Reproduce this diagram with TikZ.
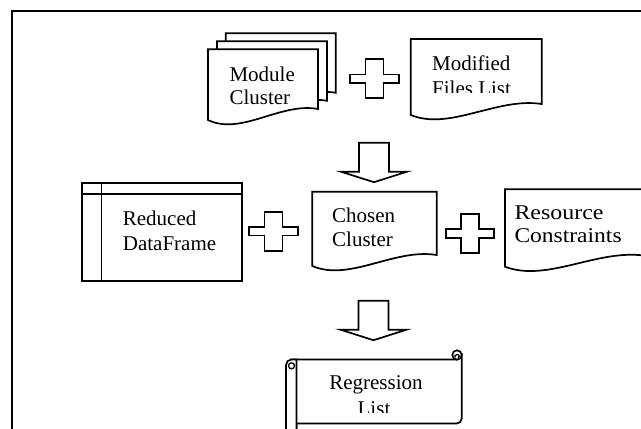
\documentclass[tikz,border=0pt]{standalone}
\usepackage{fontspec}
\setmainfont{Liberation Serif}
\tikzset{
  shape line/.style={line width=1.7pt, draw=black, fill=white, line join=miter},
  txt/.style={font=\fontsize{21}{24}\selectfont, inner sep=0pt, anchor=base west},
  txtc/.style={txt, anchor=base},
  % plus sign centred on the pic origin
  pics/plus sign/.style={code={
    \path[shape line] (-24.3,-4.2) -- (-9,-4.2) -- (-9,-19.5) -- (9,-19.5) -- (9,-4.2)
      -- (24.3,-4.2) -- (24.3,4.2) -- (9,4.2) -- (9,19.5) -- (-9,19.5) -- (-9,4.2)
      -- (-24.3,4.2) -- cycle;}},
  % block arrow pointing down, origin at the middle of its top edge
  pics/down arrow/.style={code={
    \path[shape line] (-15,0) -- (15,0) -- (15,29) -- (33,29) -- (0,39.5)
      -- (-33,29) -- (-15,29) -- cycle;}},
  % document page with a wavy bottom: #1 width, #2 height of the left side
  pics/doc page/.style 2 args={code={
    \path[shape line] (0,0) -- (#1,0) -- (#1,#2-11)
      .. controls (0.66*#1,#2-18) and (0.3*#1,#2+16) .. (0,#2) -- cycle;}},
}
\begin{document}
\begin{tikzpicture}[x=1pt, y=-1pt]
  \useasboundingbox (0,0) rectangle (641,429);
  \clip (0,0) rectangle (641,429);

  % frame
  \draw[line width=2pt] (11.7,440) -- (11.7,10.7) -- (650,10.7);

  % stacked module pages
  \pic (mcback)  at (225.7,33.3) {doc page={110}{70.5}};
  \pic (mcmid)   at (217,41.3)   {doc page={110}{70.5}};
  \pic (mcfront) at (208,49.3)   {doc page={110}{70.7}};
  \node[txt] (mc1) at (229.3,81.7) {Module};
  \node[txt] (mc2) at (229.3,104)  {Cluster};

  \pic (plusA) at (374.5,78.8) {plus sign};

  % modified files list; the second line is cut off by the text box
  \pic (mfl) at (410.7,39) {doc page={131}{76}};
  \node[txt] (mfl1) at (432,70) {Modified};
  \begin{scope}
    \clip (420,75) rectangle (540,92.6);
    \node[txt] (mfl2) at (432,95.3) {Files List};
  \end{scope}

  \pic (arrA) at (374,142.7) {down arrow};

  % reduced data frame (internal storage)
  \node[shape line, minimum width=160pt, minimum height=98.3pt, inner sep=0pt]
    (rdf) at (162.3,231.85) {};
  \draw[line width=1.7pt] (rdf.north west) ++(0,12.3) -- ++(160,0);
  \draw[line width=1.7pt] (rdf.north west) ++(20,0) -- ++(0,98.3);
  \node[txt] (rdf1) at (122.7,225)   {Reduced};
  \node[txt] (rdf2) at (122.7,250.7) {DataFrame};

  \pic (plusB) at (273.4,231.3) {plus sign};

  % chosen cluster
  \pic (cc) at (312.3,191.7) {doc page={124.4}{74.3}};
  \node[txt] (cc1) at (332,222.7) {Chosen};
  \node[txt] (cc2) at (332,246)   {Cluster};

  \pic (plusC) at (470,233.5) {plus sign};

  % resource constraints (text set a little wider)
  \pic (rc) at (505,189.3) {doc page={140}{77.4}};
  \node[txt] (rc1) at (514.3,219.3) {\scalebox{1.14}[1]{Resource}};
  \node[txt] (rc2) at (514.3,242.7) {\scalebox{1.12}[1]{Constraints}};

  \pic (arrB) at (373.5,300.7) {down arrow};

  % regression list scroll: body with rolled top-right corner
  \path[shape line] (291,359.5) -- (457,359.5) -- (461.7,355) -- (461.7,418.5)
    arc[start angle=0, end angle=90, radius=5] -- (296.5,423.5) -- (296.5,440) -- (291,440) -- cycle;
  \draw[shape line] (457,355) circle[radius=4.7];
  \draw[line width=1.3pt] (455,357.5) arc[start angle=160, end angle=420, radius=2.2];
  % left roll
  \path[shape line] (286,440) -- (286,365) arc[start angle=180, end angle=270, radius=5.5]
    -- (296.5,359.5) -- (296.5,440) -- cycle;
  \draw[line width=1.3pt, fill=white] (291.5,365.8) circle[radius=3];
  \node[txtc] (rl1) at (376,389.3) {Regression};
  \begin{scope}
    \clip (330,395) rectangle (420,412.7);
    \node[txtc] (rl2) at (374,415.9) {List};
  \end{scope}
\end{tikzpicture}
\end{document}
